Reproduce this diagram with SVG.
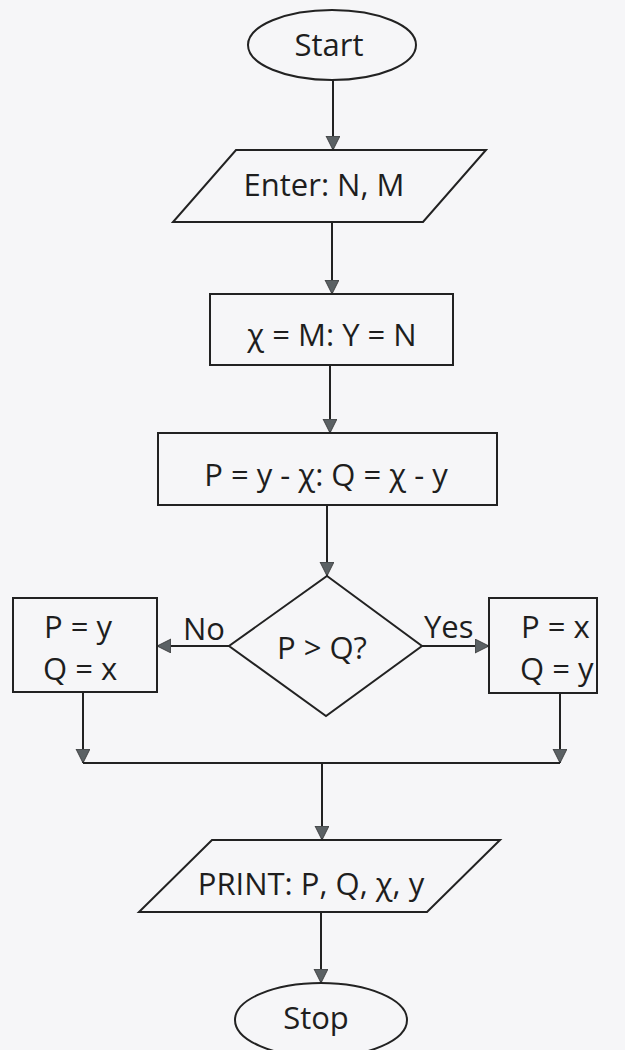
<svg xmlns="http://www.w3.org/2000/svg" width="625" height="1050" viewBox="0 0 625 1050">
<defs>
<style>
.shape{fill:none;stroke:#222;stroke-width:2}
.conn{fill:none;stroke:#222;stroke-width:2}
.t{font-family:"Open Sans","Noto Sans",sans-serif;font-size:31px;fill:#1e1e1e}
.c{text-anchor:middle}
</style>
<marker id="arr" markerUnits="userSpaceOnUse" markerWidth="16" markerHeight="16" refX="14" refY="7" orient="auto">
<path d="M0,0 L14,7 L0,14 z" fill="#5b6164" stroke="#333" stroke-width="0.8"/>
</marker>
</defs>
<rect width="625" height="1050" fill="#f6f6f8"/>
<g id="connectors">
<line class="conn" x1="333" y1="80" x2="333" y2="150" marker-end="url(#arr)"/>
<line class="conn" x1="332" y1="222" x2="332" y2="294" marker-end="url(#arr)"/>
<line class="conn" x1="330" y1="365" x2="330" y2="433" marker-end="url(#arr)"/>
<line class="conn" x1="327" y1="505" x2="327" y2="576" marker-end="url(#arr)"/>
<line class="conn" x1="229" y1="646" x2="157" y2="646" marker-end="url(#arr)"/>
<line class="conn" x1="422" y1="646" x2="489" y2="646" marker-end="url(#arr)"/>
<line class="conn" x1="83" y1="692" x2="83" y2="763" marker-end="url(#arr)"/>
<line class="conn" x1="560" y1="693" x2="560" y2="763" marker-end="url(#arr)"/>
<line class="conn" x1="83" y1="763" x2="560" y2="763"/>
<line class="conn" x1="322" y1="763" x2="322" y2="840" marker-end="url(#arr)"/>
<line class="conn" x1="321" y1="912" x2="321" y2="983" marker-end="url(#arr)"/>
<text class="t" x="183" y="640" font-size="29">No</text>
<text class="t" x="424" y="638" font-size="29">Yes</text>
</g>
<g id="start">
<ellipse class="shape" cx="332" cy="45" rx="84" ry="35"/>
<text class="t c" x="329" y="56">Start</text>
</g>
<g id="enter">
<polygon class="shape" points="236,150 486,150 423,222 173,222"/>
<text class="t c" x="324" y="196">Enter: N, M</text>
</g>
<g id="assign1">
<rect class="shape" x="210" y="294" width="243" height="71"/>
<text class="t c" x="332" y="346">χ = M: Y = N</text>
</g>
<g id="assign2">
<rect class="shape" x="158" y="433" width="339" height="72"/>
<text class="t c" x="326" y="486">P = y - χ: Q = χ - y</text>
</g>
<g id="decision">
<polygon class="shape" points="327,576 422,646 326,716 229,646"/>
<text class="t c" x="322" y="659">P &gt; Q?</text>
</g>
<g id="no-box">
<rect class="shape" x="13" y="598" width="144" height="94"/>
<text class="t" x="44" y="638">P = y</text>
<text class="t" x="43" y="680">Q = x</text>
</g>
<g id="yes-box">
<rect class="shape" x="489" y="598" width="108" height="95"/>
<text class="t" x="521" y="638">P = x</text>
<text class="t" x="520" y="680">Q = y</text>
</g>
<g id="print">
<polygon class="shape" points="212,840 500,840 427,912 139,912"/>
<text class="t c" x="311" y="895">PRINT: P, Q, χ, y</text>
</g>
<g id="stop">
<ellipse class="shape" cx="321" cy="1020" rx="86" ry="37"/>
<text class="t c" x="316" y="1029">Stop</text>
</g>
</svg>
